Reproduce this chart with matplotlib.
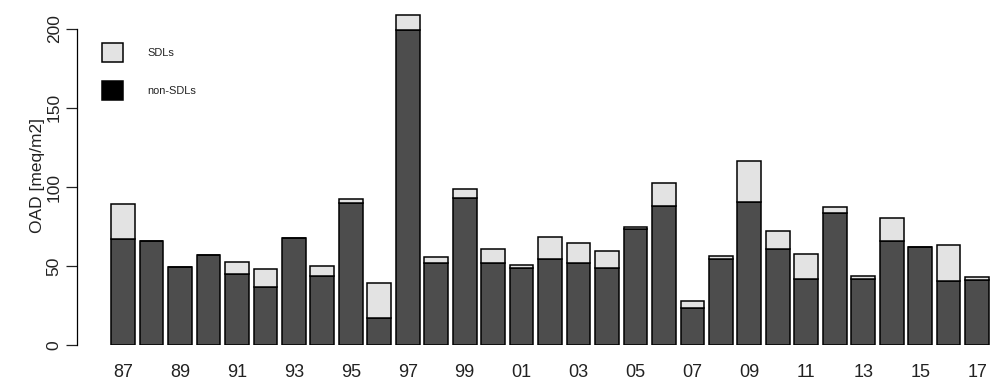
import matplotlib.pyplot as plt
from matplotlib.patches import Rectangle

plt.rcParams['font.family'] = ['Liberation Sans', 'DejaVu Sans']

years = ['87', '88', '89', '90', '91', '92', '93', '94', '95', '96',
         '97', '98', '99', '00', '01', '02', '03', '04', '05', '06',
         '07', '08', '09', '10', '11', '12', '13', '14', '15', '16', '17']

# values (meq/m2)
non_sdl = [67, 65.7, 49.3, 57, 45, 37, 68, 43.8, 90, 17.5,
           198.8, 52.2, 92.9, 52.2, 48.9, 54.6, 52, 48.9, 73.5, 88,
           23.7, 54.8, 90.3, 60.9, 42, 83.6, 42.2, 66, 62.1, 40.5, 41.3]
total = [89, 65.7, 49.3, 57, 52.9, 48.2, 68, 50, 92.4, 39.6,
         208.8, 56, 98.7, 60.9, 51, 68.5, 64.9, 59.6, 75, 102.7,
         28.3, 56.7, 116.2, 72.2, 57.9, 87.6, 44, 80.4, 62.1, 63.6, 43.2]
sdl = [t - n for t, n in zip(total, non_sdl)]

legend_labels = ['SDLs', 'non-SDLs']
legend_colors = ['#e3e3e3', 'black']

x = list(range(len(years)))
w = 1 / 1.2

fig = plt.figure(figsize=(10, 3.85), dpi=100)
ax = fig.add_axes([0.077, 0.1026, 0.918, 0.885])

ax.bar(x, non_sdl, width=w, color='#4d4d4d', edgecolor='black', linewidth=1.1)
ax.bar(x, sdl, bottom=non_sdl, width=w, color='#e3e3e3', edgecolor='black', linewidth=1.1)

ax.set_xlim(-1.617, 30.63)
ax.set_ylim(0, 215)

for s in ['top', 'right', 'bottom']:
    ax.spines[s].set_visible(False)
ax.spines['left'].set_bounds(0, 200)
ax.spines['left'].set_linewidth(0.9)

ax.set_yticks([0, 50, 100, 150, 200])
ax.set_yticklabels(['0', '50', '100', '150', '200'], rotation=90, va='center')
ax.tick_params(axis='y', length=8, width=0.9, labelsize=12.5, pad=3, colors='#222222')
ax.set_xticks(x[::2])
ax.set_xticklabels(years[::2])
ax.tick_params(axis='x', length=0, labelsize=13, pad=13, colors='#222222')

ax.set_ylabel('OAD [meq/m2]', fontsize=12.5, color='#222222', labelpad=1)

# legend drawn by hand, R style (figure pixel positions)
W, H = 1000, 385
for i, (lab, col) in enumerate(zip(legend_labels, legend_colors)):
    top = 43 + i * 38
    fig.add_artist(Rectangle((102 / W, 1 - (top + 19) / H), 21 / W, 19 / H,
                             transform=fig.transFigure, facecolor=col,
                             edgecolor='black', linewidth=1.1))
    fig.text(147 / W, 1 - (top + 10) / H, lab, fontsize=7.9, va='center',
             color='#222222')

fig.savefig('out.png', dpi=100)
